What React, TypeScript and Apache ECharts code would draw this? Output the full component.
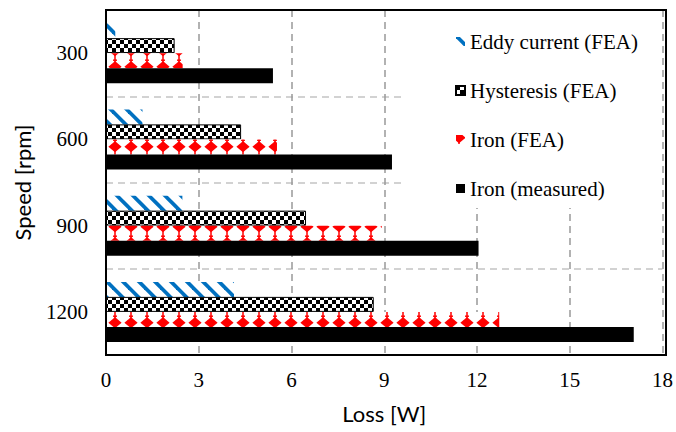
import React, { useEffect, useRef } from 'react';
import * as echarts from 'echarts';

// Core loss per rotor speed
const speeds = ['300', '600', '900', '1200'];
const eddyCurrentFea = [0.3, 1.18, 2.47, 4.14];
const hysteresisFea = [2.22, 4.37, 6.47, 8.66];
const ironFea = [2.48, 5.53, 8.92, 12.72];
const ironMeasured = [5.4, 9.25, 12.05, 17.07];
const lossTicks = [0, 3, 6, 9, 12, 15, 18];
const seriesNames = ['Eddy current (FEA)', 'Hysteresis (FEA)', 'Iron (FEA)', 'Iron (measured)'];

const SERIF = 'Liberation Serif';
const SANS = 'Lato';

// Plot area box (pixels)
const PLOT = { left: 106, top: 10, right: 10, bottom: 77 };
const VIEW = { width: 676, height: 432 };

// Build a repeating fill from a small SVG tile.
function svgTile(w: number, h: number, body: string) {
  const svg =
    `<svg xmlns="http://www.w3.org/2000/svg" width="${w}" height="${h}" viewBox="0 0 ${w} ${h}">` +
    body +
    '</svg>';
  return {
    image: 'data:image/svg+xml;charset=utf-8,' + encodeURIComponent(svg),
    repeat: 'repeat',
    imageWidth: w,
    imageHeight: h,
  };
}

// Wide downward diagonal stripes
function stripeFill() {
  const c = 1.3;
  let lines = '';
  for (let k = -1; k <= 1; k++) {
    const x0 = c + 16 * k;
    lines += `<line x1="${x0 - 4}" y1="-4" x2="${x0 + 20}" y2="20"/>`;
  }
  return svgTile(
    16,
    16,
    `<rect width="16" height="16" fill="#fff"/><g stroke="#0070C0" stroke-width="3.7">${lines}</g>`
  );
}

// Checker board
function checkerFill() {
  return svgTile(
    8,
    8,
    '<rect width="8" height="8" fill="#fff"/><rect x="0" y="0" width="4" height="4" fill="#000"/><rect x="4" y="4" width="4" height="4" fill="#000"/>'
  );
}

// Red diamonds joined by thin stems
function diamondFill() {
  const cx0 = 3;
  const cy0 = 2.7;
  let body = '<rect width="16" height="16" fill="#fff"/>';
  for (let i = -1; i <= 1; i++) {
    for (let j = -1; j <= 1; j++) {
      const cx = cx0 + 16 * i;
      const cy = cy0 + 16 * j;
      body += `<polygon fill="#ff0000" points="${cx},${cy - 5.6} ${cx + 6.6},${cy} ${cx},${cy + 5.6} ${cx - 6.6},${cy}"/>`;
      body += `<rect fill="#ff0000" x="${cx - 0.75}" y="${cy + 4}" width="1.5" height="8"/>`;
      body += `<rect fill="#ff0000" x="${cx - 2}" y="${cy + 8.8}" width="4" height="1.4"/>`;
    }
  }
  return svgTile(16, 16, body);
}

export default function App() {
  const ref = useRef<HTMLDivElement>(null);

  useEffect(() => {
    document.body.style.margin = '0';
    if (!ref.current) return;
    const chart = echarts.init(ref.current, undefined, { renderer: 'svg' });

    const fills = [stripeFill(), checkerFill(), diamondFill(), '#000'];
    const values = [eddyCurrentFea, hysteresisFea, ironFea, ironMeasured];
    const plotW = VIEW.width - PLOT.left - PLOT.right;
    const plotH = VIEW.height - PLOT.top - PLOT.bottom;

    chart.setOption({
      animation: false,
      backgroundColor: '#fff',
      grid: {
        left: PLOT.left,
        right: PLOT.right,
        top: PLOT.top,
        bottom: PLOT.bottom,
      },
      // Black frame round the plot area, kept above the legend box
      graphic: {
        elements: [
          {
            type: 'rect',
            z: 100,
            silent: true,
            shape: { x: PLOT.left, y: PLOT.top, width: plotW, height: plotH },
            style: { fill: 'transparent', stroke: '#000', lineWidth: 2 },
          },
        ],
      },
      legend: {
        orient: 'vertical',
        left: 403,
        top: 11,
        padding: [20, 24, 9, 52],
        itemGap: 28,
        itemWidth: 9,
        itemHeight: 9,
        backgroundColor: '#fff',
        data: seriesNames.map((name) => ({ name, icon: 'rect' })),
        textStyle: { fontFamily: SERIF, fontSize: 21, color: '#000' },
      },
      xAxis: {
        type: 'value',
        min: lossTicks[0],
        max: lossTicks[lossTicks.length - 1],
        interval: lossTicks[1] - lossTicks[0],
        name: 'Loss [W]',
        nameLocation: 'middle',
        nameGap: 47,
        nameTextStyle: { fontFamily: SANS, fontSize: 22, color: '#000' },
        axisLine: { show: true, lineStyle: { color: '#000', width: 1.5 } },
        axisTick: { show: false },
        axisLabel: { fontFamily: SERIF, fontSize: 21, color: '#000', margin: 14 },
        splitLine: { show: true, lineStyle: { color: '#999', width: 1.5, type: [7, 5] } },
      },
      yAxis: {
        type: 'category',
        data: speeds,
        inverse: true,
        name: 'Speed [rpm]',
        nameLocation: 'middle',
        nameGap: 73,
        nameRotate: 90,
        nameTextStyle: { fontFamily: SANS, fontSize: 22, color: '#000' },
        axisLine: { show: true, lineStyle: { color: '#000', width: 2 } },
        axisTick: { show: false },
        axisLabel: { fontFamily: SERIF, fontSize: 21, color: '#000', margin: 18 },
        splitLine: { show: true, lineStyle: { color: '#c4c4c4', width: 1.5, type: [7, 5] } },
      },
      series: seriesNames.map((name, i) => ({
        name,
        type: 'bar',
        data: values[i],
        barWidth: 15,
        barGap: '0%',
        itemStyle:
          i === 1
            ? { color: fills[i], borderColor: '#000', borderWidth: 1 }
            : { color: fills[i] },
      })),
    });

    return () => chart.dispose();
  }, []);

  return <div ref={ref} style={{ width: VIEW.width, height: VIEW.height }} />;
}
